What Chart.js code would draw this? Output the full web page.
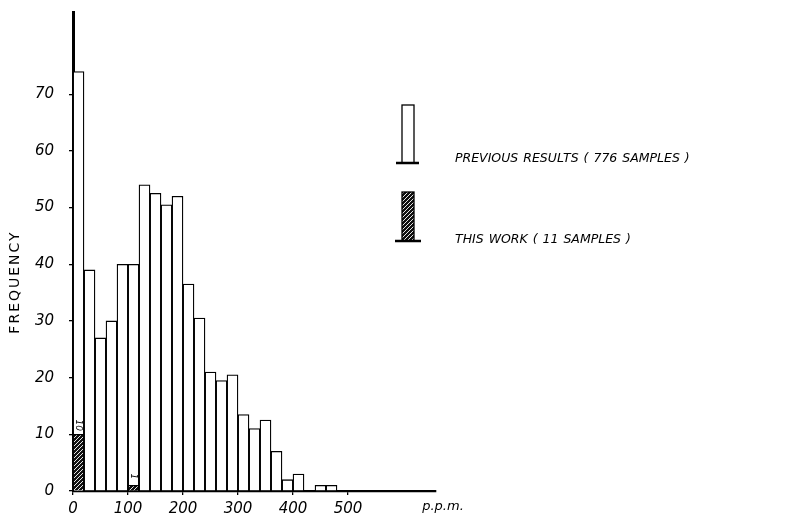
<!DOCTYPE html>
<html>
<head>
<meta charset="utf-8">
<script src="https://cdn.jsdelivr.net/npm/chart.js@4.4.1/dist/chart.umd.min.js"></script>
<style>
  html, body { margin: 0; padding: 0; background: #fff; }
  #wrap { width: 808px; height: 518px; position: relative; }
</style>
</head>
<body>
<div id="wrap"><canvas id="histChart" width="808" height="518"></canvas></div>
<script>
// --- DATA ---
// lower edge of each 20 p.p.m. class
const binStarts = [0, 20, 40, 60, 80, 100, 120, 140, 160, 180, 200, 220, 240, 260, 280, 300, 320, 340, 360, 380, 400, 420, 440, 460];
const previousCounts = [74, 39, 27, 30, 40, 40, 54, 52.5, 50.5, 52, 36.5, 30.5, 21, 19.5, 20.5, 13.5, 11, 12.5, 7, 2, 3, 0, 1, 1];
const thisWorkBins = [0, 100];
const thisWorkCounts = [10, 1];
const xTickValues = [0, 100, 200, 300, 400, 500];
const yTickValues = [0, 10, 20, 30, 40, 50, 60, 70];
const legendLabels = ['PREVIOUS RESULTS ( 776 SAMPLES )', 'THIS WORK ( 11 SAMPLES )'];
const BIN_WIDTH = 20;

const FONT = '"DejaVu Sans", sans-serif';

// Hatched fill for "this work"
const makeHatch = () => {
    const c = document.createElement('canvas');
    c.width = 4; c.height = 4;
    const g = c.getContext('2d');
    g.fillStyle = '#111';
    g.fillRect(0, 0, 4, 4);
    g.strokeStyle = '#fff';
    g.lineWidth = 0.9;
    g.beginPath();
    g.moveTo(0, 4); g.lineTo(4, 0);
    g.moveTo(-1, 1); g.lineTo(1, -1);
    g.moveTo(3, 5); g.lineTo(5, 3);
    g.stroke();
    return g.createPattern(c, 'repeat');
};
const hatch = makeHatch();

// Legend, axis title, unit and bar annotations
const annotatePlugin = {
    id: 'annotate',
    afterDraw(chart) {
        const ctx = chart.ctx;
        ctx.save();
        ctx.fillStyle = '#000';
        ctx.strokeStyle = '#000';

        // FREQUENCY (vertical)
        ctx.save();
        ctx.translate(15, 282);
        ctx.rotate(-Math.PI / 2);
        ctx.font = `14px ${FONT}`;
        ctx.letterSpacing = '2px';
        ctx.textAlign = 'center';
        ctx.textBaseline = 'middle';
        ctx.fillText('FREQUENCY', 0, 0);
        ctx.restore();

        // p.p.m. unit after the x axis
        ctx.font = `italic 13px ${FONT}`;
        ctx.textAlign = 'center';
        ctx.textBaseline = 'middle';
        ctx.fillText('p.p.m.', 443, 507);

        // legend icons
        ctx.lineWidth = 1.3;
        ctx.fillStyle = '#fff';
        ctx.fillRect(402, 105, 12, 58);
        ctx.strokeRect(402, 105, 12, 58);
        ctx.fillStyle = hatch;
        ctx.fillRect(402, 192, 12, 49);
        ctx.strokeRect(402, 192, 12, 49);
        ctx.lineWidth = 2.5;
        ctx.beginPath();
        ctx.moveTo(396, 163); ctx.lineTo(419, 163);
        ctx.moveTo(395, 241); ctx.lineTo(421, 241);
        ctx.stroke();

        // legend texts
        ctx.fillStyle = '#000';
        ctx.font = `italic 12.5px ${FONT}`;
        ctx.letterSpacing = '0px';
        ctx.wordSpacing = '1px';
        ctx.textAlign = 'left';
        ctx.textBaseline = 'alphabetic';
        ctx.fillText(legendLabels[0], 455, 162);
        ctx.fillText(legendLabels[1], 455, 243);
        ctx.wordSpacing = '0px';

        // counts written above the hatched bars
        const meta = chart.getDatasetMeta(1);
        ctx.font = `italic 9px ${FONT}`;
        meta.data.forEach((bar, i) => {
            ctx.save();
            ctx.translate(bar.x, bar.y - 9);
            ctx.rotate(Math.PI / 2);
            ctx.textAlign = 'center';
            ctx.textBaseline = 'middle';
            ctx.fillText(String(thisWorkCounts[i]), 0, 0);
            ctx.restore();
        });
        ctx.restore();
    }
};

const ctx = document.getElementById('histChart').getContext('2d');
new Chart(ctx, {
    type: 'bar',
    data: {
        datasets: [{
            label: legendLabels[0],
            data: binStarts.map((b, i) => ({ x: b + BIN_WIDTH / 2, y: previousCounts[i] })),
            backgroundColor: '#fff',
            borderColor: '#000',
            borderWidth: 1.3,
            order: 1
        }, {
            label: legendLabels[1],
            data: thisWorkBins.map((b, i) => ({ x: b + BIN_WIDTH / 2, y: thisWorkCounts[i] })),
            backgroundColor: hatch,
            borderColor: '#000',
            borderWidth: 1.3,
            order: 0
        }]
    },
    options: {
        responsive: false,
        animation: false,
        grouped: false,
        barPercentage: 1,
        categoryPercentage: 1,
        layout: { padding: { top: 12, right: 372, left: 0, bottom: 0 } },
        plugins: {
            legend: { display: false },
            tooltip: { enabled: false }
        },
        scales: {
            x: {
                type: 'linear',
                offset: false,
                min: 0,
                max: 660,
                afterBuildTicks: scale => { scale.ticks = xTickValues.map(v => ({ value: v })); },
                afterFit: scale => { scale.height = 27; scale.paddingLeft = 0; scale.paddingRight = 0; },
                grid: { offset: false, drawOnChartArea: false, drawTicks: true, tickLength: 4, color: '#000', lineWidth: 1.3 },
                border: { display: true, color: '#000', width: 2.2 },
                ticks: {
                    color: '#000',
                    padding: 5,
                    maxRotation: 0,
                    font: { family: FONT, size: 15, style: 'italic' }
                }
            },
            y: {
                min: 0,
                max: 84.5,
                afterBuildTicks: scale => { scale.ticks = yTickValues.map(v => ({ value: v })); },
                afterFit: scale => { scale.width = 73; scale.paddingTop = 0; scale.paddingBottom = 0; },
                grid: { drawOnChartArea: false, drawTicks: true, tickLength: 4, color: '#000', lineWidth: 1.3 },
                border: { display: true, color: '#000', width: 3 },
                ticks: {
                    color: '#000',
                    padding: 15,
                    font: { family: FONT, size: 15, style: 'italic' }
                }
            }
        }
    },
    plugins: [annotatePlugin]
});
</script>
</body>
</html>
